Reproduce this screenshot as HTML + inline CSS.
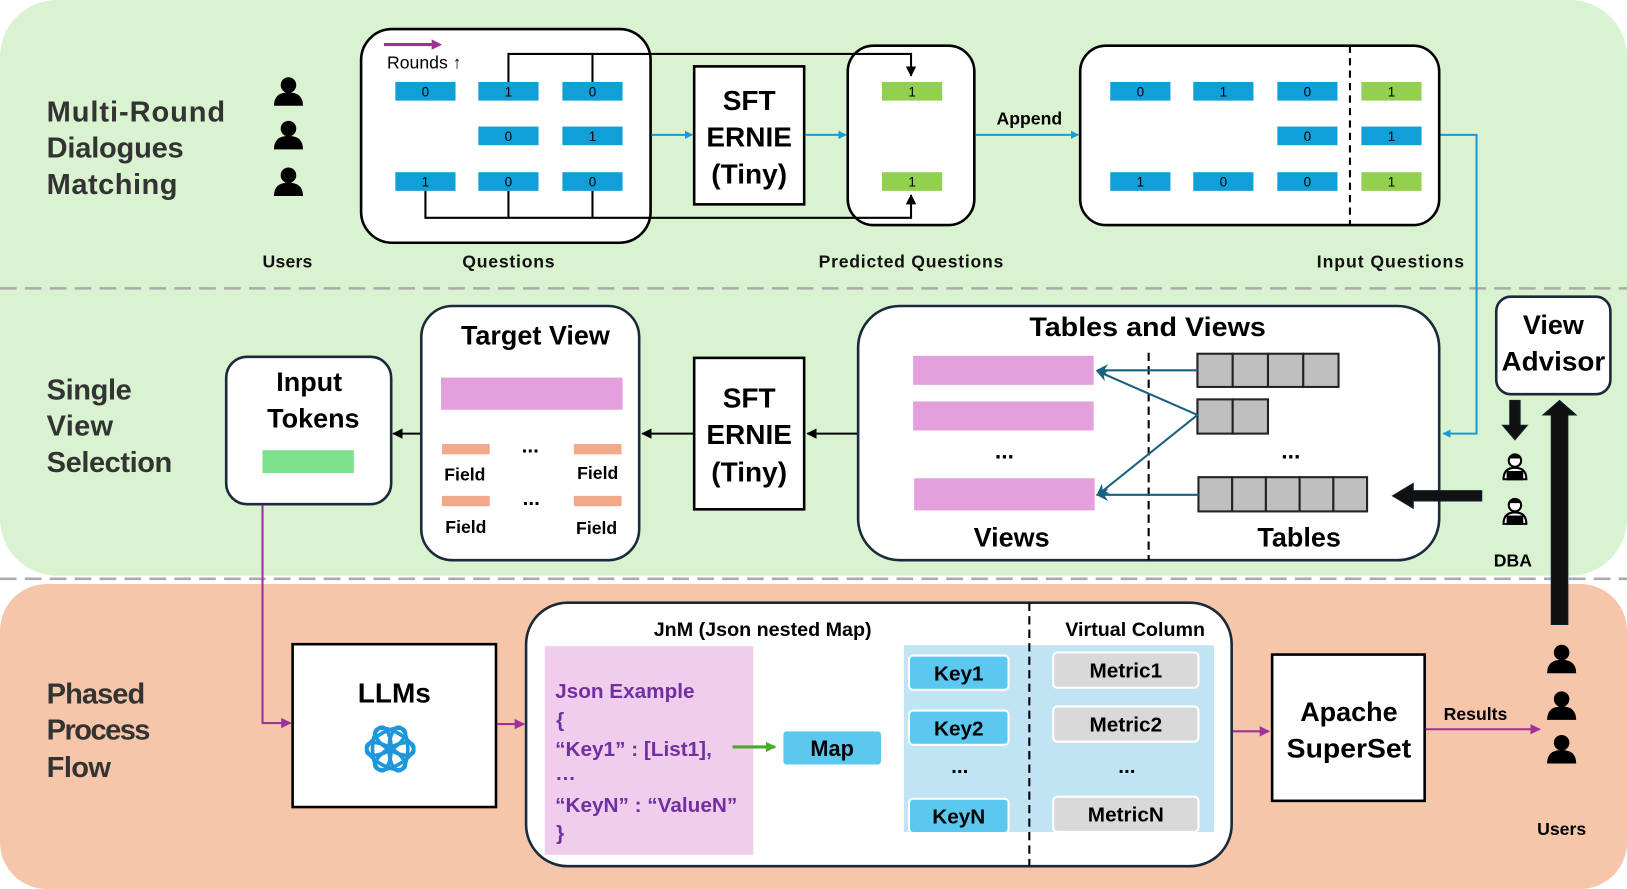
<!DOCTYPE html>
<html><head><meta charset="utf-8"><style>html,body{margin:0;padding:0;background:#fff}svg{display:block}text{font-family:"Liberation Sans",sans-serif}</style></head><body>
<svg width="1627" height="889" viewBox="0 0 1568 857" preserveAspectRatio="none" xmlns="http://www.w3.org/2000/svg">
<defs>
<marker id="ab" markerWidth="8" markerHeight="8" refX="7" refY="4" orient="auto" markerUnits="userSpaceOnUse"><path d="M0,0 L8,4 L0,8 Z" fill="#1a9ad6"/></marker>
<marker id="ak" markerWidth="10" markerHeight="10" refX="9" refY="5" orient="auto" markerUnits="userSpaceOnUse"><path d="M0,0 L10,5 L0,10 Z" fill="#000"/></marker>
<marker id="ap" markerWidth="10" markerHeight="10" refX="9" refY="5" orient="auto" markerUnits="userSpaceOnUse"><path d="M0,0 L10,5 L0,10 Z" fill="#a0309a"/></marker>
<marker id="at" markerWidth="12" markerHeight="12" refX="10" refY="6" orient="auto" markerUnits="userSpaceOnUse"><path d="M0,0 L12,6 L0,12 L4,6 Z" fill="#1a6080"/></marker>
<marker id="ag" markerWidth="10" markerHeight="10" refX="9" refY="5" orient="auto" markerUnits="userSpaceOnUse"><path d="M0,0 L10,5 L0,10 Z" fill="#4aaa2a"/></marker>
<g id="user"><circle cx="0" cy="-8" r="7.5" fill="#000"/><path d="M-14,12 Q-14,-1 0,-1 Q14,-1 14,12 Z" fill="#000"/></g>
<g id="dba"><circle cx="0" cy="-9" r="6" fill="#fff" stroke="#000" stroke-width="2"/><path d="M-6,-11 Q0,-18 6,-11" fill="#000"/><path d="M-11,9 Q-11,-2 0,-2 Q11,-2 11,9 Z" fill="#fff" stroke="#000" stroke-width="2"/><rect x="-8" y="1" width="16" height="9" fill="#000"/></g>
</defs>
<rect x="0" y="0" width="1568" height="555" rx="55" fill="#d9f2d0"/>
<rect x="0" y="563" width="1568" height="294" rx="45" fill="#f5c6aa"/>
<line x1="0" y1="278" x2="1568" y2="278" stroke="#aaa" stroke-width="2.5" stroke-dasharray="16,8"/>
<line x1="0" y1="558" x2="1568" y2="558" stroke="#aaa" stroke-width="2.5" stroke-dasharray="16,8"/>

<g font-size="28" fill="#333" font-weight="bold" lengthAdjust="spacingAndGlyphs"><text x="45" y="117" textLength="172">Multi-Round</text><text x="45" y="152" textLength="132">Dialogues</text><text x="45" y="187" textLength="126">Matching</text>
<text x="45" y="385" textLength="82">Single</text><text x="45" y="420" textLength="64">View</text><text x="45" y="455" textLength="121">Selection</text>
<text x="45" y="678" textLength="95">Phased</text><text x="45" y="713" textLength="100">Process</text><text x="45" y="749" textLength="62">Flow</text></g>

<use href="#user" x="278" y="90"/><use href="#user" x="278" y="132"/><use href="#user" x="278" y="177"/>
<g font-size="17" text-anchor="middle" fill="#111" font-weight="bold" lengthAdjust="spacingAndGlyphs"><text x="277" y="258" textLength="48">Users</text><text x="490" y="258" textLength="89">Questions</text><text x="878" y="258" textLength="178">Predicted Questions</text><text x="1340" y="258" textLength="142">Input Questions</text></g>

<rect x="348" y="28" width="279" height="206" rx="30" fill="#fff" stroke="#000" stroke-width="2.5"/>
<line x1="370" y1="43" x2="418" y2="43" stroke="#a0309a" stroke-width="3"/><path d="M416,38 L426,43 L416,48Z" fill="#a0309a"/>
<text x="373" y="66" font-size="17">Rounds ↑</text>
<rect x="817" y="44" width="122" height="173" rx="25" fill="#fff" stroke="#000" stroke-width="2.5"/>
<g fill="none" stroke="#000" stroke-width="2">
<path d="M490,79 V52 H878 V73" marker-end="url(#ak)"/><line x1="571" y1="52" x2="571" y2="79"/>
<path d="M410,184 V210 H878 V188" marker-end="url(#ak)"/><line x1="490" y1="184" x2="490" y2="210"/><line x1="571" y1="184" x2="571" y2="210"/></g>
<g font-size="13" text-anchor="middle">
<g fill="#109fd6"><rect x="381" y="79" width="58" height="18"/><rect x="461" y="79" width="58" height="18"/><rect x="542" y="79" width="58" height="18"/><rect x="461" y="122" width="58" height="18"/><rect x="542" y="122" width="58" height="18"/><rect x="381" y="166" width="58" height="18"/><rect x="461" y="166" width="58" height="18"/><rect x="542" y="166" width="58" height="18"/></g>
<text x="410" y="93">0</text><text x="490" y="93">1</text><text x="571" y="93">0</text><text x="490" y="136">0</text><text x="571" y="136">1</text><text x="410" y="180">1</text><text x="490" y="180">0</text><text x="571" y="180">0</text>
<rect x="850" y="79" width="58" height="18" fill="#92d050"/><rect x="850" y="166" width="58" height="18" fill="#92d050"/><text x="879" y="93">1</text><text x="879" y="180">1</text>
</g>
<rect x="669" y="64" width="106" height="133" fill="#fff" stroke="#000" stroke-width="2.5"/>
<g font-size="27" text-anchor="middle" font-weight="bold"><text x="722" y="106">SFT</text><text x="722" y="141">ERNIE</text><text x="722" y="177">(Tiny)</text></g>
<g stroke="#1a9ad6" stroke-width="2"><line x1="628" y1="130" x2="667" y2="130" marker-end="url(#ab)"/><line x1="776" y1="130" x2="815" y2="130" marker-end="url(#ab)"/><line x1="940" y1="130" x2="1039" y2="130" marker-end="url(#ab)"/>
<path d="M1388,130 H1423 V418 H1391" fill="none" marker-end="url(#ab)"/></g>
<text x="992" y="120" font-size="17" text-anchor="middle" font-weight="bold">Append</text>
<rect x="1041" y="44" width="346" height="173" rx="25" fill="#fff" stroke="#000" stroke-width="2.5"/>
<line x1="1301" y1="44" x2="1301" y2="217" stroke="#000" stroke-width="2" stroke-dasharray="7,5"/>
<g font-size="13" text-anchor="middle">
<g fill="#109fd6"><rect x="1070" y="79" width="58" height="18"/><rect x="1150" y="79" width="58" height="18"/><rect x="1231" y="79" width="58" height="18"/><rect x="1231" y="122" width="58" height="18"/><rect x="1312" y="122" width="58" height="18"/><rect x="1070" y="166" width="58" height="18"/><rect x="1150" y="166" width="58" height="18"/><rect x="1231" y="166" width="58" height="18"/></g>
<rect x="1312" y="79" width="58" height="18" fill="#92d050"/><rect x="1312" y="166" width="58" height="18" fill="#92d050"/>
<text x="1099" y="93">0</text><text x="1179" y="93">1</text><text x="1260" y="93">0</text><text x="1341" y="93">1</text><text x="1260" y="136">0</text><text x="1341" y="136">1</text><text x="1099" y="180">1</text><text x="1179" y="180">0</text><text x="1260" y="180">0</text><text x="1341" y="180">1</text></g>

<!-- middle -->
<rect x="218" y="344" width="159" height="142" rx="20" fill="#fff" stroke="#1a2a3a" stroke-width="2.5"/>
<g font-size="26" text-anchor="middle" font-weight="bold"><text x="298" y="377">Input</text><text x="302" y="412">Tokens</text></g>
<rect x="253" y="434" width="88" height="22" fill="#7ee08a"/>
<line x1="405" y1="418" x2="379" y2="418" stroke="#000" stroke-width="2" marker-end="url(#ak)"/>
<rect x="406" y="295" width="210" height="245" rx="30" fill="#fff" stroke="#1a2a3a" stroke-width="2.5"/>
<text x="516" y="332" font-size="26" text-anchor="middle" font-weight="bold">Target View</text>
<rect x="425" y="364" width="175" height="31" fill="#e4a0dc"/>
<g fill="#f2a98a"><rect x="426" y="428" width="46" height="10"/><rect x="553" y="428" width="46" height="10"/><rect x="426" y="478" width="46" height="10"/><rect x="553" y="478" width="46" height="10"/></g>
<g font-size="17" text-anchor="middle" font-weight="bold"><text x="448" y="463">Field</text><text x="576" y="462">Field</text><text x="449" y="514">Field</text><text x="575" y="515">Field</text>
<text x="511" y="436" font-size="20">...</text><text x="512" y="487" font-size="20">...</text></g>
<line x1="668" y1="418" x2="619" y2="418" stroke="#000" stroke-width="2" marker-end="url(#ak)"/>
<rect x="669" y="345" width="106" height="146" fill="#fff" stroke="#000" stroke-width="2.5"/>
<g font-size="27" text-anchor="middle" font-weight="bold"><text x="722" y="393">SFT</text><text x="722" y="428">ERNIE</text><text x="722" y="464">(Tiny)</text></g>
<line x1="826" y1="418" x2="778" y2="418" stroke="#000" stroke-width="2" marker-end="url(#ak)"/>
<rect x="827" y="295" width="560" height="245" rx="40" fill="#fff" stroke="#1a2a3a" stroke-width="2.5"/>
<text x="1106" y="324" font-size="26" text-anchor="middle" font-weight="bold" textLength="228" lengthAdjust="spacingAndGlyphs">Tables and Views</text>
<line x1="1107" y1="340" x2="1107" y2="540" stroke="#000" stroke-width="2" stroke-dasharray="8,5"/>
<g fill="#e4a0dc"><rect x="880" y="343" width="174" height="28"/><rect x="880" y="387" width="174" height="28"/><rect x="881" y="461" width="174" height="31"/></g>
<g fill="#bfbfbf" stroke="#222" stroke-width="2">
<rect x="1154" y="341" width="34" height="32"/><rect x="1188" y="341" width="34" height="32"/><rect x="1222" y="341" width="34" height="32"/><rect x="1256" y="341" width="34" height="32"/>
<rect x="1154" y="385" width="34" height="33"/><rect x="1188" y="385" width="34" height="33"/>
<rect x="1155" y="460" width="32.5" height="33"/><rect x="1187.5" y="460" width="32.5" height="33"/><rect x="1220" y="460" width="32.5" height="33"/><rect x="1252.5" y="460" width="32.5" height="33"/><rect x="1285" y="460" width="32.5" height="33"/></g>
<g stroke="#1a6080" stroke-width="2" fill="none"><line x1="1154" y1="357" x2="1058" y2="357" marker-end="url(#at)"/><line x1="1154" y1="400" x2="1058" y2="358" marker-end="url(#at)"/><line x1="1154" y1="400" x2="1058" y2="477" marker-end="url(#at)"/><line x1="1155" y1="477" x2="1058" y2="477" marker-end="url(#at)"/></g>
<g font-size="22" text-anchor="middle" font-weight="bold"><text x="968" y="442">...</text><text x="1244" y="442">...</text></g>
<g font-size="26" text-anchor="middle" font-weight="bold"><text x="975" y="527">Views</text><text x="1252" y="527">Tables</text></g>
<rect x="1442" y="286" width="110" height="94" rx="14" fill="#fff" stroke="#1a2a3a" stroke-width="2.5"/>
<g font-size="26" text-anchor="middle" font-weight="bold"><text x="1497" y="322">View</text><text x="1497" y="357" textLength="100" lengthAdjust="spacingAndGlyphs">Advisor</text></g>
<path d="M1455,386 H1465 V410 H1472 L1460,424 L1448,410 H1455 Z" fill="#111" stroke="#0a2030" stroke-width="1"/>
<use href="#dba" x="1460" y="453"/><use href="#dba" x="1460" y="496"/>
<text x="1458" y="546" font-size="17" text-anchor="middle" font-weight="bold">DBA</text>
<path d="M1428,473 H1362 V466 L1342,478 L1362,490 V483 H1428 Z" fill="#111" stroke="#0a2030" stroke-width="1"/>
<path d="M1495,602 V400 H1487 L1503,386 L1519,400 H1511 V602 Z" fill="#111" stroke="#0a2030" stroke-width="1"/>

<!-- bottom -->
<path d="M253,487 V697 H280" fill="none" stroke="#a0309a" stroke-width="2" marker-end="url(#ap)"/>
<rect x="282" y="621" width="196" height="157" fill="#fff" stroke="#000" stroke-width="2.5"/>
<text x="380" y="677" font-size="27" text-anchor="middle" font-weight="bold">LLMs</text>
<g transform="translate(376,722)" fill="none" stroke="#1e96dc" stroke-width="3.5">
<ellipse rx="9" ry="21" transform="rotate(0) translate(8,0)"/><ellipse rx="9" ry="21" transform="rotate(60) translate(8,0)"/><ellipse rx="9" ry="21" transform="rotate(120) translate(8,0)"/>
<ellipse rx="9" ry="21" transform="rotate(180) translate(8,0)"/><ellipse rx="9" ry="21" transform="rotate(240) translate(8,0)"/><ellipse rx="9" ry="21" transform="rotate(300) translate(8,0)"/></g>
<line x1="479" y1="698" x2="505" y2="698" stroke="#a0309a" stroke-width="2" marker-end="url(#ap)"/>
<rect x="507" y="581" width="680" height="254" rx="40" fill="#fff" stroke="#1a2a3a" stroke-width="2.5"/>
<g font-size="19" text-anchor="middle" font-weight="bold"><text x="735" y="613">JnM (Json nested Map)</text><text x="1094" y="613">Virtual Column</text></g>
<rect x="525" y="623" width="201" height="201" fill="#f0cdec"/>
<g font-size="20" fill="#7030a0" font-weight="bold"><text x="535" y="673">Json Example</text><text x="536" y="701">{</text><text x="535" y="729">“Key1” : [List1],</text><text x="535" y="752">…</text><text x="535" y="783">“KeyN” : “ValueN”</text><text x="536" y="810">}</text></g>
<line x1="706" y1="720" x2="747" y2="720" stroke="#4aaa2a" stroke-width="3" marker-end="url(#ag)"/>
<rect x="755" y="705" width="94" height="32" rx="3" fill="#5bc8f0"/>
<text x="802" y="729" font-size="21" text-anchor="middle" font-weight="bold">Map</text>
<rect x="871" y="622" width="299" height="180" fill="#c0e4f4"/>
<line x1="992" y1="581" x2="992" y2="835" stroke="#000" stroke-width="2" stroke-dasharray="8,5"/>
<g fill="#5bc8f0" stroke="#fff" stroke-width="2"><rect x="876" y="632" width="96" height="33" rx="4"/><rect x="876" y="685" width="96" height="33" rx="4"/><rect x="876" y="770" width="96" height="33" rx="4"/></g>
<g fill="#d9d9d9" stroke="#fff" stroke-width="2"><rect x="1015" y="629" width="140" height="34" rx="4"/><rect x="1015" y="681" width="140" height="34" rx="4"/><rect x="1015" y="768" width="140" height="34" rx="4"/></g>
<g font-size="20" text-anchor="middle" font-weight="bold"><text x="924" y="656">Key1</text><text x="924" y="709">Key2</text><text x="924" y="794">KeyN</text><text x="925" y="745">...</text>
<text x="1085" y="653">Metric1</text><text x="1085" y="705">Metric2</text><text x="1085" y="792">MetricN</text><text x="1086" y="745">...</text></g>
<line x1="1188" y1="705" x2="1223" y2="705" stroke="#a0309a" stroke-width="2" marker-end="url(#ap)"/>
<rect x="1226" y="631" width="147" height="141" fill="#fff" stroke="#000" stroke-width="2.5"/>
<g font-size="26" text-anchor="middle" font-weight="bold"><text x="1300" y="695">Apache</text><text x="1300" y="730" textLength="120" lengthAdjust="spacingAndGlyphs">SuperSet</text></g>
<line x1="1374" y1="703" x2="1484" y2="703" stroke="#a0309a" stroke-width="2" marker-end="url(#ap)"/>
<text x="1422" y="694" font-size="17" text-anchor="middle" font-weight="bold">Results</text>
<use href="#user" x="1505" y="637"/><use href="#user" x="1505" y="682"/><use href="#user" x="1505" y="724"/>
<text x="1505" y="805" font-size="17" text-anchor="middle" font-weight="bold">Users</text>
</svg>
</body></html>
